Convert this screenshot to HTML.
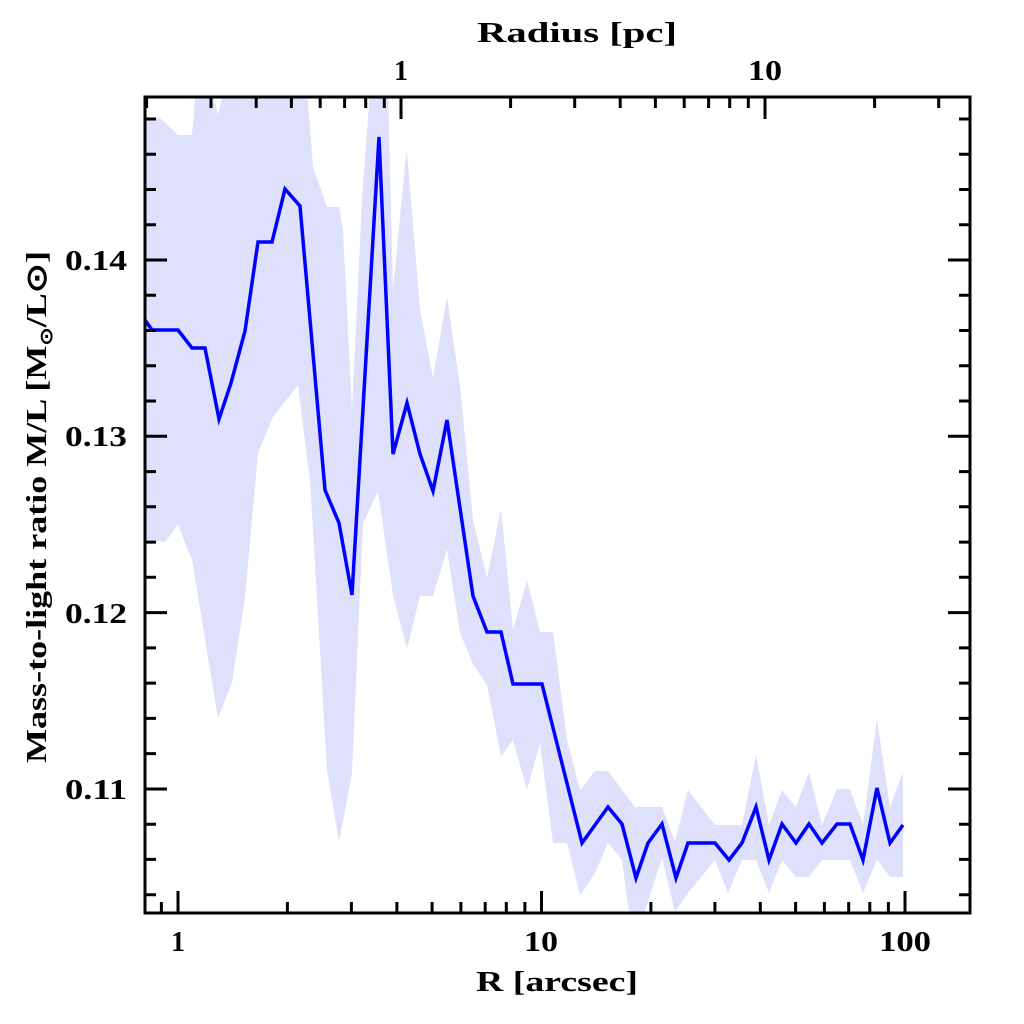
<!DOCTYPE html>
<html><head><meta charset="utf-8"><style>html,body{margin:0;padding:0;background:#fff}svg{display:block}</style></head>
<body>
<svg width="1024" height="1024" viewBox="0 0 1024 1024" xmlns="http://www.w3.org/2000/svg">
<defs><clipPath id="c"><rect x="145" y="97" width="825" height="816"/></clipPath></defs>
<rect width="1024" height="1024" fill="#fff"/>
<g clip-path="url(#c)">
<polygon fill="#dfe0fc" points="
140,118 160,118 178,135 192,135 196,90 212,90 218,115 224,90 307,90 313,167 327,207 339,207 343,230 352,410 362,200 370,90 388,90 393,290 406,155 407,152 420,310 433,378 447,297 460,386 473,520 487,578 501,509 513,630 527,580 540,632 553,632 567,740 580,790 582,788 595,771 608,771 635,807 662,807 675,842 688,790 715,825 742,825 756,755 769,825 782,790 796,807 809,772 822,825 837,789 850,789 863,825 877,719 890,807 903,772
903,877 890,877 877,860 863,893 850,860 822,860 809,877 796,877 782,860 769,893 756,860 742,860 728,893 715,860 688,893 675,912 662,858 642,920 630,920 622,860 608,843 595,873 582,893 580,895 567,843 553,843 540,743 527,790 513,740 501,756 487,685 473,664 460,633 447,549 433,596 420,596 407,649 393,595 378,492 363,523 352,773 339,842 327,770 310,480 298,385 273,417 258,453 245,597 232,683 218,718 192,560 178,525 165,542 147,540 140,540"/>
<polyline fill="none" stroke="#0000ff" stroke-width="3.5" stroke-linejoin="miter" points="
140,313 152,330 178,330 192,348 205,348 219,419 231,383 245,331 258,242 272,242 285,189 300,206 325,490 339,523 352,595 379,137 393,454 407,403 420,454 433,491 447,420 473,596 487,632 501,632 513,684 542,684 582,843 608,807 622,824 636,878 648,843 662,824 676,878 688,843 715,843 729,860 742,843 756,807 769,860 782,824 796,843 809,824 822,843 837,824 850,824 863,860 877,788 890,843 903,825"/>
</g>
<g stroke="#000" stroke-width="3" fill="none">
<rect x="145" y="97" width="825" height="816"/>
<path d="
M145,789h22M145,612.6h22M145,436.3h22M145,260h22
M970,789h-22M970,612.6h-22M970,436.3h-22M970,260h-22
M145,894.7h11M145,859.4h11M145,824.2h11M145,753.6h11M145,718.4h11M145,683.1h11M145,647.9h11M145,577.3h11M145,542.1h11M145,506.8h11M145,471.6h11M145,401h11M145,365.8h11M145,330.5h11M145,295.3h11M145,224.7h11M145,189.5h11M145,154.2h11M145,119h11
M970,894.7h-11M970,859.4h-11M970,824.2h-11M970,753.6h-11M970,718.4h-11M970,683.1h-11M970,647.9h-11M970,577.3h-11M970,542.1h-11M970,506.8h-11M970,471.6h-11M970,401h-11M970,365.8h-11M970,330.5h-11M970,295.3h-11M970,224.7h-11M970,189.5h-11M970,154.2h-11M970,119h-11
M178,913v-22M541.5,913v-22M905,913v-22
M161.4,913v-11M287.4,913v-11M351.4,913v-11M396.9,913v-11M432.1,913v-11M460.9,913v-11M485.2,913v-11M506.3,913v-11M524.9,913v-11M650.9,913v-11M714.9,913v-11M760.3,913v-11M795.6,913v-11M824.4,913v-11M848.7,913v-11M869.8,913v-11M888.4,913v-11
M401,97v22M765,97v22
M146.6,97v11M211,97v11M256.2,97v11M291.4,97v11M320.2,97v11M344.6,97v11M365.7,97v11M384.3,97v11M510.6,97v11M574.7,97v11M620.2,97v11M655.4,97v11M684.2,97v11M708.6,97v11M729.7,97v11M748.3,97v11M874.6,97v11M938.7,97v11"/>
</g>
<g font-family="'Liberation Serif', serif" font-weight="bold" font-size="28" fill="#000">
<text x="178" y="951" text-anchor="middle">1</text>
<text x="541" y="951" text-anchor="middle" textLength="34" lengthAdjust="spacingAndGlyphs">10</text>
<text x="905" y="951" text-anchor="middle" textLength="52" lengthAdjust="spacingAndGlyphs">100</text>
<text x="557" y="991" text-anchor="middle" textLength="162" lengthAdjust="spacingAndGlyphs">R [arcsec]</text>
<text x="401" y="80" text-anchor="middle">1</text>
<text x="765" y="80" text-anchor="middle" textLength="34" lengthAdjust="spacingAndGlyphs">10</text>
<text x="577" y="42" text-anchor="middle" textLength="200" lengthAdjust="spacingAndGlyphs">Radius [pc]</text>
<text x="127" y="270" text-anchor="end" textLength="62" lengthAdjust="spacingAndGlyphs">0.14</text>
<text x="127" y="446" text-anchor="end" textLength="62" lengthAdjust="spacingAndGlyphs">0.13</text>
<text x="127" y="623" text-anchor="end" textLength="62" lengthAdjust="spacingAndGlyphs">0.12</text>
<text x="127" y="799" text-anchor="end" textLength="62" lengthAdjust="spacingAndGlyphs">0.11</text>
<text transform="translate(46,507) rotate(-90)" text-anchor="middle" textLength="512" lengthAdjust="spacingAndGlyphs">Mass-to-light ratio M/L [M<tspan font-size="17" dy="6">⊙</tspan><tspan dy="-6">/L⊙]</tspan></text>
</g>
</svg>
</body></html>
